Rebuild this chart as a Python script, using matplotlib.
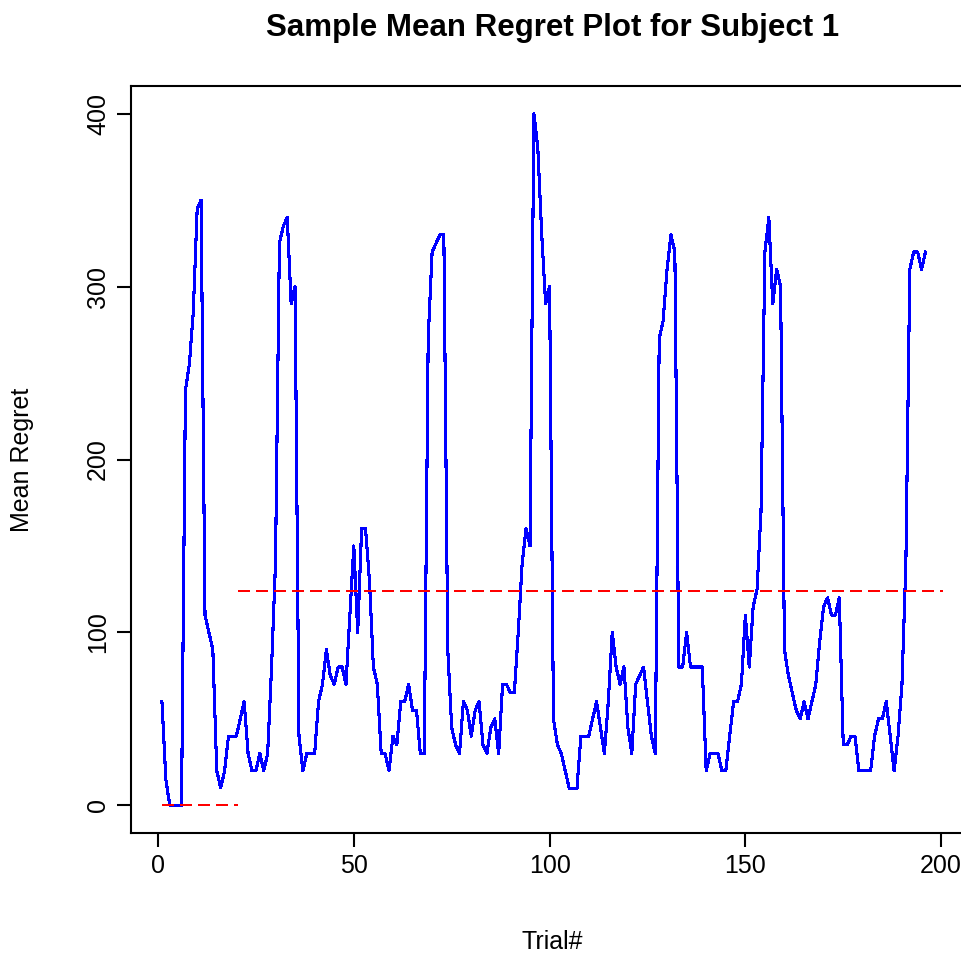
import numpy as np
import matplotlib
matplotlib.use('Agg')
from matplotlib import pyplot as plt

# data
trial = np.arange(1, 197)
regret = np.array([
    60, 15, 0, 0, 0, 0, 240, 255, 285, 345,          # 1-10
    350, 110, 100, 90, 20, 10, 20, 40, 40, 40,       # 11-20
    50, 60, 30, 20, 20, 30, 20, 30, 80, 140,         # 21-30
    325, 335, 340, 290, 300, 40, 20, 30, 30, 30,     # 31-40
    60, 70, 90, 75, 70, 80, 80, 70, 110, 150,        # 41-50
    100, 160, 160, 130, 80, 70, 30, 30, 20, 40,      # 51-60
    35, 60, 60, 70, 55, 55, 30, 30, 270, 320,        # 61-70
    325, 330, 330, 90, 45, 35, 30, 60, 55, 40,       # 71-80
    55, 60, 35, 30, 45, 50, 30, 70, 70, 65,          # 81-90
    65, 100, 140, 160, 150, 400, 380, 330, 290, 300, # 91-100
    50, 35, 30, 20, 10, 10, 10, 40, 40, 40,          # 101-110
    50, 60, 45, 30, 60, 100, 80, 70, 80, 45,         # 111-120
    30, 70, 75, 80, 60, 40, 30, 270, 280, 310,       # 121-130
    330, 320, 80, 80, 100, 80, 80, 80, 80, 20,       # 131-140
    30, 30, 30, 20, 20, 40, 60, 60, 70, 110,         # 141-150
    80, 115, 125, 170, 320, 340, 290, 310, 300, 90,  # 151-160
    75, 65, 55, 50, 60, 50, 60, 70, 95, 115,         # 161-170
    120, 110, 110, 120, 35, 35, 40, 40, 20, 20,      # 171-180
    20, 20, 40, 50, 50, 60, 40, 20, 40, 70,          # 181-190
    140, 310, 320, 320, 310, 320,                    # 191-196
])

# red reference segments
base_x = [1, 20.5]
base_y = [0, 0]
mean_x = [20.5, 200.5]
mean_y = [124, 124]

xticks = [0, 50, 100, 150, 200]
yticks = [0, 100, 200, 300, 400]

plt.rcParams['font.family'] = ['Liberation Sans', 'DejaVu Sans']
plt.rcParams['lines.scale_dashes'] = False

W, H = 961, 955
fig = plt.figure(figsize=(W/100, H/100), dpi=100)
# plot box runs off the right edge, like the original
left, right, top, bottom = 131, 974, 86, 833
ax = fig.add_axes([left/W, 1-bottom/H, (right-left)/W, (bottom-top)/H])

ax.plot(trial, regret, color='blue', lw=1.5, antialiased=False)
ax.plot(base_x, base_y, color='red', lw=1.5, dashes=(8, 5), antialiased=False)
ax.plot(mean_x, mean_y, color='red', lw=1.5, dashes=(8, 5), antialiased=False)

ax.set_xlim(-6.9, 208.4)
ax.set_ylim(-16, 416)
ax.set_xticks(xticks)
ax.set_yticks(yticks)

for s in ax.spines.values():
    s.set_linewidth(1.5)
ax.tick_params(direction='out', length=10, width=1.5, labelsize=18, pad=5)
ax.tick_params(axis='y', labelrotation=90)
for t in ax.get_yticklabels():
    t.set_va('center')

ax.set_xlabel('Trial#', fontsize=18)
ax.xaxis.set_label_coords(0.5, (bottom-942)/(bottom-top))
ax.xaxis.label.set_va('center')
ax.set_ylabel('Mean Regret', fontsize=18)
ax.yaxis.set_label_coords((22-left)/(right-left), 0.5)
ax.yaxis.label.set_va('center')

ax.set_title('Sample Mean Regret Plot for Subject 1', fontsize=22.5,
             fontweight='bold', y=1+(top-28)/(bottom-top), va='center', pad=0)

fig.savefig('out.png', dpi=100)
